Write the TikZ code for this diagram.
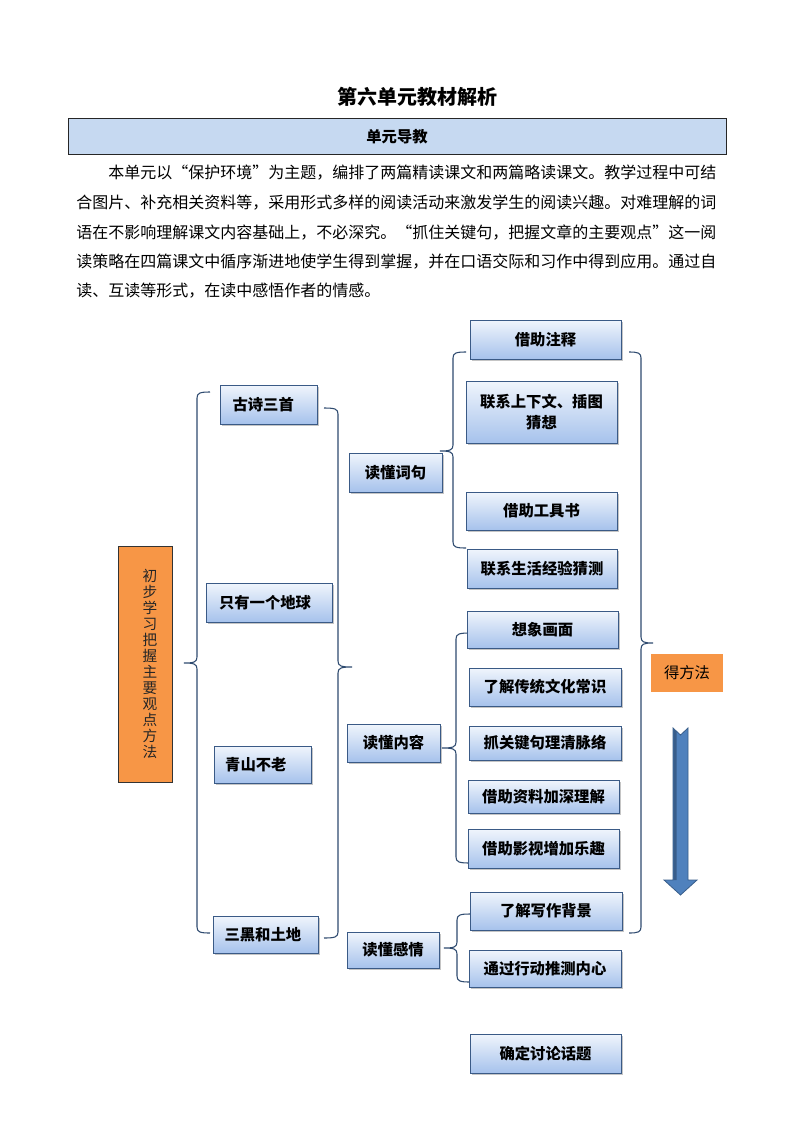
\documentclass[tikz,border=0pt]{standalone}
\usepackage{fontspec}
\setmainfont{Noto Sans CJK SC}
\usetikzlibrary{shadows}
\XeTeXlinebreaklocale "zh"
\XeTeXlinebreakskip=0pt plus 1pt
\definecolor{bord}{HTML}{3A5A86}
\definecolor{btop}{HTML}{F0F5FC}
\definecolor{bbot}{HTML}{A6C2EC}
\definecolor{orng}{HTML}{F79646}
\definecolor{hdr}{HTML}{C6D9F1}
\definecolor{arrf}{HTML}{4F81BD}
\definecolor{arrd}{HTML}{385D8A}
\definecolor{brc}{HTML}{2F4B70}
\tikzset{
  bx/.style={draw=bord, line width=0.75pt, top color=btop, bottom color=bbot,
    inner sep=0pt, align=center, font=\fontsize{11.5pt}{15.75pt}\selectfont\bfseries,
    drop shadow={shadow xshift=1.3pt, shadow yshift=-1.5pt, fill=black!45, opacity=0.5}},
  brace/.style={draw=brc, line width=0.8pt},
  para/.style={anchor=west, inner sep=0pt, font=\fontsize{12pt}{14pt}\selectfont}
}
% box from pixel corners
\newcommand\Bx[7][]{\node[bx,#1, minimum width={(#5-#3)*0.75pt}, minimum height={(#6-#4)*0.75pt}] (#2) at ({(#3+#5)/2},{(#4+#6)/2}) {#7};}
\newcommand\LBr[5]{\draw[brace] (#1+#5,#2) .. controls (#1+3,#2) and (#1,#2+1) .. (#1,#2+6) -- (#1,#4-6) .. controls (#1,#4-1) and (#1-3,#4) .. (#1-#5,#4) .. controls (#1-3,#4) and (#1,#4+1) .. (#1,#4+6) -- (#1,#3-6) .. controls (#1,#3-1) and (#1+3,#3) .. (#1+#5,#3);}
\newcommand\RBr[5]{\draw[brace] (#1-#5,#2) .. controls (#1-3,#2) and (#1,#2+1) .. (#1,#2+6) -- (#1,#4-6) .. controls (#1,#4-1) and (#1+3,#4) .. (#1+#5,#4) .. controls (#1+3,#4) and (#1,#4+1) .. (#1,#4+6) -- (#1,#3-6) .. controls (#1,#3-1) and (#1-3,#3) .. (#1-#5,#3);}
\begin{document}
\begin{tikzpicture}[x=0.75pt,y=-0.75pt]
\useasboundingbox[fill=white] (0,0) rectangle (794,1123);
% title
\node[font=\fontsize{15pt}{18pt}\selectfont\bfseries] (title) at (417,97) {第六单元教材解析};
\node[draw=black!85, line width=0.75pt, fill=hdr, minimum width={658*0.75pt}, minimum height={36*0.75pt},
  inner sep=0pt, font=\fontsize{11.5pt}{14pt}\selectfont\bfseries] (hdr) at (397,137) {单元导教};
% paragraph
\node[para] (p1) at (108,173) {\hbox to 459pt{本单元以“保护环境”为主题，编排了两篇精读课文和两篇略读课文。教学过程中可结}};
\node[para] (p2) at (76,203) {\hbox to 483pt{合图片、补充相关资料等，采用形式多样的阅读活动来激发学生的阅读兴趣。对难理解的词}};
\node[para] (p3) at (76,233) {\hbox to 483pt{语在不影响理解课文内容基础上，不必深究。“抓住关键句，把握文章的主要观点”这一阅}};
\node[para] (p4) at (76,262) {\hbox to 483pt{读策略在四篇课文中循序渐进地使学生得到掌握，并在口语交际和习作中得到应用。通过自}};
\node[para] (p5) at (76,291) {读、互读等形式，在读中感悟作者的情感。};
% left orange box
\node[draw=black!80, line width=0.6pt, fill=orng, minimum width={54*0.75pt}, minimum height={236*0.75pt}, inner sep=0pt] (zy) at (145,664) {};
\node[align=center, inner sep=0pt, text=black!85, font=\fontsize{11pt}{12pt}\selectfont] (zyt) at (150,664)
  {初\\步\\学\\习\\把\\握\\主\\要\\观\\点\\方\\法};
% braces
\LBr{197}{392}{933}{663}{13}
\RBr{338}{408}{938}{667}{14}
\LBr{453}{352}{548}{451}{13}
\LBr{456}{633}{863}{748}{14}
\LBr{457}{914}{982}{948}{13}
\RBr{641}{352}{933}{643}{12}
% lessons
\Bx{gs}{220}{385}{317}{424}{\hspace*{-8pt}古诗三首}
\Bx{dq}{206}{583}{332}{622}{\hspace*{-6pt}只有一个地球}
\Bx{qs}{214}{746}{311}{783}{\hspace*{-10pt}青山不老}
\Bx{sh}{213}{916}{318}{953}{\hspace*{-4pt}三黑和土地}
% middle
\Bx{dc}{349}{453}{442}{492}{读懂词句}
\Bx{dn}{347}{724}{440}{762}{读懂内容}
\Bx{dg}{347}{932}{439}{968}{读懂感情}
% children
\Bx{c1}{470}{320}{621}{359}{借助注释}
\Bx{c2}{466}{381}{617}{443}{联系上下文、插图\\猜想}
\Bx{c3}{466}{492}{617}{530}{借助工具书}
\Bx{c4}{467}{549}{617}{588}{联系生活经验猜测}
\Bx{n1}{467}{611}{618}{648}{想象画面}
\Bx{n2}{469}{668}{621}{706}{了解传统文化常识}
\Bx{n3}{469}{726}{621}{760}{抓关键句理清脉络}
\Bx{n4}{468}{780}{619}{813}{借助资料加深理解}
\Bx{n5}{468}{829}{619}{868}{借助影视增加乐趣}
\Bx{g1}{470}{892}{622}{930}{了解写作背景}
\Bx{g2}{469}{950}{621}{987}{通过行动推测内心}
\Bx{qd}{470}{1034}{621}{1073}{确定讨论话题}
% method
\node[fill=orng, minimum width={72*0.75pt}, minimum height={38*0.75pt}, inner sep=0pt,
  font=\fontsize{11.5pt}{14pt}\selectfont] (ff) at (687,673) {得方法};
% arrow
\filldraw[fill=arrf, draw=arrd, line width=0.6pt, line join=miter]
  (673,728) -- (680.5,735) -- (688,728) -- (688,880) -- (697,880) -- (680.5,895) -- (664,880) -- (673,880) -- cycle;
\fill[arrd] (673.4,728.8) -- (676.5,731.8) -- (676.5,880) -- (673.4,880) -- cycle;
\end{tikzpicture}
\end{document}
